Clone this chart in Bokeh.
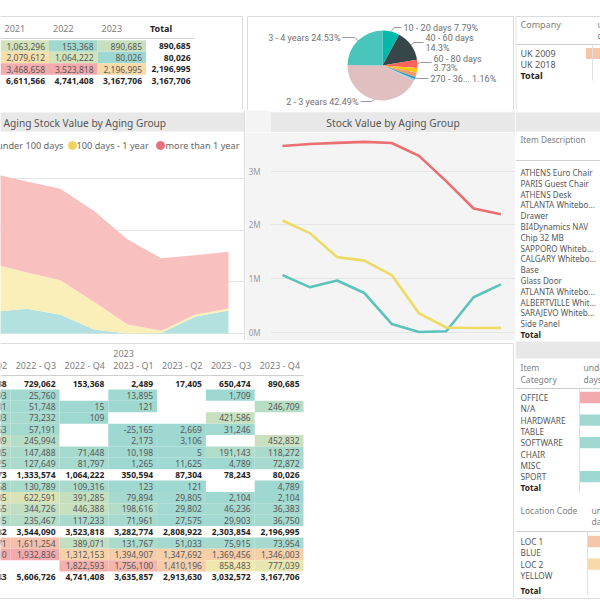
import numpy as np
from bokeh.plotting import figure
from bokeh.layouts import row, column
from bokeh.models import (Range1d, ColumnDataSource, LinearColorMapper, BoxAnnotation,
                          Label, LinearAxis, FixedTicker, Grid, CustomJSTickFormatter)
from bokeh.embed import file_html
from bokeh.resources import INLINE
from bokeh.core.properties import value

# ---------------- data ----------------
quarters = ["2021 Q4", "2022 Q1", "2022 Q2", "2022 Q3", "2022 Q4",
            "2023 Q1", "2023 Q2", "2023 Q3", "2023 Q4"]
groups = ["under 100 days", "100 days - 1 year", "more than 1 year"]
under_100 = [1063296, 839000, 962388, 729062, 153368, 2489, 17405, 650474, 890685]
days100_1y = [2079612, 1845000, 1398073, 1333574, 1064222, 350594, 87304, 78243, 80026]
more_1y = [3468658, 3505000, 3525082, 3544090, 3523818, 3282774, 2808922, 2303854, 2196995]

years = ["2021", "2022", "2023", "Total"]
year_under_100 = [1063296, 153368, 890685, 890685]
year_100_1y = [2079612, 1064222, 80026, 80026]
year_more_1y = [3468658, 3523818, 2196995, 2196995]
year_total = [6611566, 4741408, 3167706, 3167706]

pie_cats = ["10 - 20 days", "40 - 60 days", "60 - 80 days", "80 - 100 days",
            "100 - 180 days", "270 - 365 days", "1 - 2 years", "2 - 3 years", "3 - 4 years"]
pie_pct = [7.79, 14.3, 3.73, 2.2, 1.9, 1.16, 0.74, 42.49, 24.53]

companies = ["UK 2009", "UK 2018"]
company_under_100 = [890685, None]                                     # estimated, cut off
items = ["ATHENS Euro Chair", "PARIS Guest Chair", "ATHENS Desk", "ATLANTA Whitebo...",
         "Drawer", "BI4Dynamics NAV", "Chip 32 MB", "SAPPORO Whiteb...", "CALGARY Whitebo...",
         "Base", "Glass Door", "ATLANTA Whitebo...", "ALBERTVILLE Whit...", "SARAJEVO Whiteb...",
         "Side Panel"]
item_categories = ["OFFICE", "N/A", "HARDWARE", "TABLE", "SOFTWARE", "CHAIR", "MISC", "SPORT"]
cat_under_100 = [850000, None, 20000, None, 15000, None, None, 5000]   # estimated, cut off
locations = ["LOC 1", "BLUE", "LOC 2", "YELLOW"]
loc_under_100 = [700000, None, 560000, None]                           # estimated, cut off

tbl_cols = ["2022 - Q2", "2022 - Q3", "2022 - Q4", "2023 - Q1", "2023 - Q2", "2023 - Q3", "2023 - Q4"]
tbl_year = "2023"
tbl_rows = [
    [962388, 729062, 153368, 2489, 17405, 650474, 890685],
    [35093, 25760, None, 13895, None, 1709, None],
    [62431, 51748, 15, 121, None, None, 246709],
    [88503, 73232, 109, None, None, 421586, None],
    [70063, 57191, None, -25165, 2669, 31246, None],
    [395539, 245994, None, 2173, 3106, None, 452832],
    [180285, 147488, 71448, 10198, 5, 191143, 118272],
    [130425, 127649, 81797, 1265, 11625, 4789, 72872],
    [1398073, 1333574, 1064222, 350594, 87304, 78243, 80026],
    [140568, 130789, 109316, 123, 121, None, 4789],
    [640885, 622591, 391285, 79894, 29805, 2104, 2104],
    [420065, 344726, 446388, 198616, 29802, 46236, 36383],
    [196515, 235467, 117233, 71961, 27575, 29903, 36750],
    [3525082, 3544090, 3523818, 3282774, 2808922, 2303854, 2196995],
    [1598971, 1611254, 389071, 131767, 51033, 75915, 73954],
    [1926110, 1932836, 1312153, 1394907, 1347692, 1369456, 1346003],
    [None, None, 1822593, 1756100, 1410196, 858483, 777039],
    [5885543, 5606726, 4741408, 3635857, 2913630, 3032572, 3167706],
]
tbl_subtotal = [True, False, False, False, False, False, False, False, True,
                False, False, False, False, True, False, False, False, True]

# ---------------- style ----------------
FONT = "Noto Sans"
PIE_FONT = "Roboto"
BORDER = "#DCDCDC"
BAR = "#E8E8E8"
HEAD = "#7E7E7E"
TXT = "#585858"
BOLD = "#252423"
LINE_BG = "#F4F4F4"
SERIES_LINE = ["#5CC3BB", "#EEDB66", "#EB6E73"]
SERIES_AREA = ["#B3E1DF", "#FBEFB9", "#F8C1C0"]
SERIES_DOT = ["#5CC3BB", "#F2D45C", "#E8707A"]
PIE_COLORS = ["#01B8AA", "#374649", "#FD625E", "#F2C80F", "#FE9666",
              "#3599B8", "#8AD4EB", "#DFBFBF", "#4AC5BB"]


def hex2rgb(h):
    return tuple(int(h[i:i + 2], 16) for i in (1, 3, 5))


def ramp(stops, n=256):
    out = []
    k = len(stops) - 1
    for j in range(n):
        t = j / (n - 1) * k
        s = min(int(t), k - 1)
        f = t - s
        a, b = hex2rgb(stops[s]), hex2rgb(stops[s + 1])
        out.append("#%02x%02x%02x" % tuple(int(round(a[q] + (b[q] - a[q]) * f)) for q in range(3)))
    return out


PAL = ramp(["#9DD8D2", "#F9E9A8", "#F3AAAC"])


def frame_fig(x0, x1, y0, y1, ax, bx, ay, by, bg="white", left=0):
    """Figure covering page box x0..x1, y0..y1 (px); data->px: px = a + b*d."""
    fx = lambda r: (r - ax) / bx
    fy = lambda r: (r - ay) / by
    p = figure(width=int(x1 - x0), height=int(y1 - y0),
               x_range=Range1d(fx(x0 + left), fx(x1)), y_range=Range1d(fy(y1), fy(y0)),
               x_axis_location=None, y_axis_location=None,
               output_backend="svg", toolbar_location=None,
               min_border=0, min_border_left=left,
               background_fill_color=bg, border_fill_color=bg, outline_line_color=None)
    p.center = []          # no default grid lines
    return p, fx, fy


def seg(p, x0, y0, x1, y1, color=BORDER, width=1):
    p.segment(x0=x0, y0=y0, x1=x1, y1=y1, line_color=color, line_width=width)


def texts(p, x, y, t, align="left", size="8.5px", color=TXT, bold=False, xoff=0, font=FONT):
    p.text(x=x, y=y, text=t, text_align=align, text_baseline="middle",
           text_font=value(font), text_font_size=size, text_color=color,
           text_font_style="bold" if bold else "normal", x_offset=xoff)


def bar(p, top, bottom, color=BAR):
    p.add_layout(BoxAnnotation(top=top, bottom=bottom, fill_color=color, fill_alpha=1,
                               line_alpha=0, level="underlay"))


def fmt(v):
    return f"{v:,}"


# ================= top-left year table =================
p1, fx1, fy1 = frame_fig(0, 245, 0, 110, 24.25, 48.5, 45.5, 11.5)
grp_year = [year_under_100, year_100_1y, year_more_1y]
cx, cy, cv = [], [], []
for r, vals in enumerate(grp_year):
    for c in range(len(years) - 1):
        cx.append(c); cy.append(r); cv.append(vals[c])
m1 = LinearColorMapper(palette=PAL, low=min(cv), high=max(cv))
p1.rect(x="x", y="y", width=1, height=1, source=ColumnDataSource(dict(x=cx, y=cy, v=cv)),
        fill_color={"field": "v", "transform": m1}, line_color=None)
nx, ny, nt, bxs, bys, bts = [], [], [], [], [], []
for r, vals in enumerate(grp_year + [year_total]):
    for c, v in enumerate(vals):
        if r == len(grp_year) or c == len(years) - 1:
            bxs.append(c + 0.5); bys.append(r); bts.append(fmt(v))
        else:
            nx.append(c + 0.5); ny.append(r); nt.append(fmt(v))
texts(p1, nx, ny, nt, align="right", xoff=-4)
texts(p1, bxs, bys, bts, align="right", xoff=-4, bold=True, color=BOLD)
texts(p1, [c - 0.5 for c in range(3)], [fy1(28)] * 3, years[:3], xoff=4, color=HEAD, size="9px")
texts(p1, [2.5], [fy1(28)], [years[3]], xoff=4, color=BOLD, size="9px", bold=True)
seg(p1, -0.5, fy1(38), 3.5, fy1(38), color="#CFCFCF")
seg(p1, fx1(0), fy1(16), fx1(242), fy1(16))
seg(p1, fx1(242), fy1(16), fx1(242), fy1(110))

# ================= pie =================
p2, fx2, fy2 = frame_fig(245, 515, 0, 110, 382, 1, 65, -1)
pct = np.array(pie_pct, dtype=float)
cum = np.cumsum(pct) / pct.sum()
starts = np.pi / 2 - 2 * np.pi * np.concatenate([[0.0], cum[:-1]])
ends = np.pi / 2 - 2 * np.pi * cum
p2.wedge(x=0, y=0, radius=35, start_angle=starts, end_angle=ends, direction="clock",
         fill_color=PIE_COLORS, line_color=None)
pie_label_layout = {
    "10 - 20 days": dict(side=1, x=403, ys=[27], ly=27),
    "40 - 60 days": dict(side=1, x=425, ys=[37, 47], ly=42),
    "60 - 80 days": dict(side=1, x=433, ys=[58, 67], ly=62),
    "270 - 365 days": dict(side=1, x=430, ys=[78], ly=78, short="270 - 36..."),
    "2 - 3 years": dict(side=-1, x=358, ys=[101], ly=101),
    "3 - 4 years": dict(side=-1, x=340, ys=[37], ly=37),
}
for k, cat in enumerate(pie_cats):
    if cat not in pie_label_layout:
        continue
    L = pie_label_layout[cat]
    name = L.get("short", cat)
    ptxt = f"{pie_pct[k]:g}%"
    lines = [name + " " + ptxt] if len(L["ys"]) == 1 else [name, ptxt]
    mid = (starts[k] + ends[k]) / 2
    px, py = 35 * np.cos(mid), 35 * np.sin(mid)
    ly = fy2(L["ly"])
    xe = fx2(L["x"] - L["side"] * 2)
    p2.line(x=[px, px + L["side"] * 3, xe], y=[py, ly, ly], line_color="#9A9A9A", line_width=1)
    texts(p2, [fx2(L["x"])] * len(lines), [fy2(v) for v in L["ys"]], lines,
          align="left" if L["side"] > 0 else "right", size="9px", color="#707070", font=PIE_FONT)
seg(p2, fx2(247), fy2(16), fx2(513), fy2(16))
seg(p2, fx2(247), fy2(16), fx2(247), fy2(110))
seg(p2, fx2(513), fy2(16), fx2(513), fy2(110))

# ================= company table =================
p3, fx3, fy3 = frame_fig(515, 600, 0, 110, 575, 21, 53, 11)
ki = [k for k, v in enumerate(company_under_100) if v is not None]
m3 = LinearColorMapper(palette=PAL, low=0, high=1.15e6)
p3.rect(x="x", y="y", width=1, height=1,
        source=ColumnDataSource(dict(x=[1] * len(ki), y=ki, v=[company_under_100[k] for k in ki])),
        fill_color={"field": "v", "transform": m3}, line_color=None)
texts(p3, [fx3(520)], [fy3(24)], ["Company"], color=HEAD, size="9px")
texts(p3, [fx3(597)] * 2, [fy3(24), fy3(35)], ["under 100", "days"], color=HEAD, size="9px")
seg(p3, fx3(515), fy3(44), fx3(600), fy3(44), color="#CFCFCF")
seg(p3, fx3(592), fy3(44), fx3(592), fy3(80), color="#E0E0E0")
texts(p3, [fx3(520)] * len(companies), list(range(len(companies))), companies, size="9px")
texts(p3, [fx3(520)], [len(companies)], ["Total"], size="9px", bold=True, color=BOLD)
seg(p3, fx3(515), fy3(16), fx3(600), fy3(16))
seg(p3, fx3(515.5), fy3(16), fx3(515.5), fy3(110))

# ================= stacked area =================
p4, fx4, fy4 = frame_fig(0, 245, 110, 340, -40.8, 33.6, 333, -25.83e-6)
xi = list(range(len(quarters)))
p4.add_layout(Grid(dimension=1, ticker=FixedTicker(ticks=[0, 2e6, 4e6, 6e6]),
                   grid_line_color="#E6E6E6"))
src4 = ColumnDataSource(dict(i=xi, u=under_100, y=days100_1y, r=more_1y))
p4.varea_stack(["u", "y", "r"], x="i", source=src4, color=SERIES_AREA)
bar(p4, fy4(112), fy4(131))
p4.add_layout(Label(x=fx4(3), y=fy4(122), text="Aging Stock Value by Aging Group",
                    text_baseline="middle", text_font=FONT, text_font_size="10.2px",
                    text_color="#555555"))
leg_dot_x = [-8, 72, 160]
leg_txt = [(63, "right"), (76, "left"), (165, "left")]
p4.scatter(x=[fx4(v) for v in leg_dot_x], y=[fy4(145)] * 3, size=8, color=SERIES_DOT)
for (lx, al), g in zip(leg_txt, groups):
    texts(p4, [fx4(lx)], [fy4(145)], [g], align=al, size="9.2px", color="#666666")
seg(p4, fx4(244), fy4(110), fx4(244), fy4(340))

# ================= line chart =================
p5t, fx5t, fy5t = frame_fig(245, 515, 110, 132, 0, 1, 0, 1, bg=LINE_BG)
bar(p5t, 112, 132)
p5t.add_layout(Label(x=380, y=122, text="Stock Value by Aging Group", text_align="center",
                     text_baseline="middle", text_font=FONT, text_font_size="10.3px",
                     text_color="#555555"))
bar(p5t, 110, 111.5, color="white")

ax5, bx5, ay5, by5 = 282, 27.3, 331.7, -53.7e-6
fx5 = lambda r: (r - ax5) / bx5
fy5 = lambda r: (r - ay5) / by5
p5 = figure(width=270, height=208, x_range=Range1d(fx5(270), fx5(515)),
            y_range=Range1d(fy5(340), fy5(132)), x_axis_location=None, y_axis_location=None,
            output_backend="svg", toolbar_location=None, min_border=0, min_border_left=25,
            background_fill_color=LINE_BG, border_fill_color=LINE_BG, outline_line_color=None)
p5.center = []
yax = LinearAxis(ticker=FixedTicker(ticks=[0, 1e6, 2e6, 3e6]),
                 formatter=CustomJSTickFormatter(code="return (tick/1e6).toFixed(0) + 'M';"),
                 axis_line_color=None, major_tick_line_color=None, minor_tick_line_color=None,
                 major_tick_out=0, major_label_standoff=10, major_label_text_font=FONT,
                 major_label_text_font_size="8px", major_label_text_color="#9A9A9A")
p5.add_layout(yax, "left")
p5.add_layout(Grid(dimension=1, ticker=yax.ticker, grid_line_color="#E4E4E4"))
for ser, col in zip([under_100, days100_1y, more_1y], SERIES_LINE):
    p5.line(x=xi, y=ser, line_color=col, line_width=2.6)

# ================= item description list =================
p6, fx6, fy6 = frame_fig(515, 600, 110, 340, 0, 1, 172, 10.8)
bar(p6, fy6(112), fy6(131))
texts(p6, [520], [fy6(139)], ["Item Description"], color=HEAD, size="8.3px")
seg(p6, 515, fy6(160), 600, fy6(160), color="#CFCFCF")
texts(p6, [520] * len(items), list(range(len(items))), items, size="8.1px")
texts(p6, [520], [len(items)], ["Total"], size="8.3px", bold=True, color=BOLD)

# ================= quarter matrix =================
p7, fx7, fy7 = frame_fig(0, 515, 340, 600, -14.2, 48.8, 371.92, 11.38)
cx, cy, cv = [], [], []
for r, vals in enumerate(tbl_rows):
    if tbl_subtotal[r]:
        continue
    for c, v in enumerate(vals):
        if v is not None:
            cx.append(c); cy.append(r + 1); cv.append(v)
m7 = LinearColorMapper(palette=PAL, low=min(cv), high=max(cv))
p7.rect(x="x", y="y", width=1, height=1, source=ColumnDataSource(dict(x=cx, y=cy, v=cv)),
        fill_color={"field": "v", "transform": m7}, line_color=None)
nx, ny, nt, bxs, bys, bts = [], [], [], [], [], []
for r, vals in enumerate(tbl_rows):
    for c, v in enumerate(vals):
        if v is None:
            continue
        if tbl_subtotal[r]:
            bxs.append(c + 0.5); bys.append(r + 1); bts.append(fmt(v))
        else:
            nx.append(c + 0.5); ny.append(r + 1); nt.append(fmt(v))
texts(p7, nx, ny, nt, align="right", xoff=-4)
texts(p7, bxs, bys, bts, align="right", xoff=-4, bold=True, color=BOLD)
texts(p7, [c - 0.5 for c in range(len(tbl_cols))], [fy7(365)] * len(tbl_cols), tbl_cols,
      xoff=5, color=HEAD, size="9px")
texts(p7, [2.5], [fy7(353)], [tbl_year], xoff=5, color=HEAD, size="9px")
seg(p7, fx7(0), fy7(375), 6.5, fy7(375), color="#CFCFCF")
seg(p7, fx7(0), fy7(343), fx7(513), fy7(343))
seg(p7, fx7(513), fy7(343), fx7(513), fy7(598))
seg(p7, fx7(0), fy7(598), fx7(513), fy7(598))

# ================= item category table =================
p8, fx8, fy8 = frame_fig(515, 600, 340, 497, 569, 21, 397, 11.3)
bar(p8, fy8(341), fy8(358))
ci = [k for k, v in enumerate(cat_under_100) if v is not None]
m8 = LinearColorMapper(palette=PAL, low=0, high=max(v for v in cat_under_100 if v))
p8.rect(x="x", y="y", width=1, height=1,
        source=ColumnDataSource(dict(x=[1] * len(ci), y=ci, v=[cat_under_100[k] for k in ci])),
        fill_color={"field": "v", "transform": m8}, line_color=None)
texts(p8, [fx8(520)] * 2, [fy8(367), fy8(379)], ["Item", "Category"], color=HEAD, size="8.5px")
texts(p8, [fx8(583)] * 2, [fy8(367), fy8(379)], ["under 100", "days"], color=HEAD, size="8.5px")
seg(p8, fx8(515), fy8(388), fx8(600), fy8(388), color="#CFCFCF")
seg(p8, fx8(579), fy8(388), fx8(579), fy8(493), color="#E0E0E0")
texts(p8, [fx8(520)] * len(item_categories), list(range(len(item_categories))),
      item_categories, size="8.3px")
texts(p8, [fx8(520)], [len(item_categories)], ["Total"], size="8.3px", bold=True, color=BOLD)
seg(p8, fx8(515), fy8(497), fx8(600), fy8(497))

# ================= location table =================
p9, fx9, fy9 = frame_fig(515, 600, 497, 600, 577, 21, 541, 11.3)
li = [k for k, v in enumerate(loc_under_100) if v is not None]
m9 = LinearColorMapper(palette=PAL, low=0, high=900000)
p9.rect(x="x", y="y", width=1, height=1,
        source=ColumnDataSource(dict(x=[1] * len(li), y=li, v=[loc_under_100[k] for k in li])),
        fill_color={"field": "v", "transform": m9}, line_color=None)
texts(p9, [fx9(520)], [fy9(510)], ["Location Code"], color=HEAD, size="8.5px")
texts(p9, [fx9(591)] * 2, [fy9(510), fy9(521)], ["under 100", "days"], color=HEAD, size="8.5px")
seg(p9, fx9(515), fy9(531), fx9(600), fy9(531), color="#CFCFCF")
seg(p9, fx9(587), fy9(531), fx9(587), fy9(594), color="#E0E0E0")
texts(p9, [fx9(520)] * len(locations), list(range(len(locations))), locations, size="8.3px")
texts(p9, [fx9(520)], [fy9(590)], ["Total"], size="8.3px", bold=True, color=BOLD)
seg(p9, fx9(515), fy9(598), fx9(600), fy9(598))

page = column(row(p1, p2, p3),
              row(p4, column(p5t, p5), p6),
              row(p7, column(p8, p9)))
open("out.html", "w").write(file_html(page, INLINE, "Aging Stock"))
